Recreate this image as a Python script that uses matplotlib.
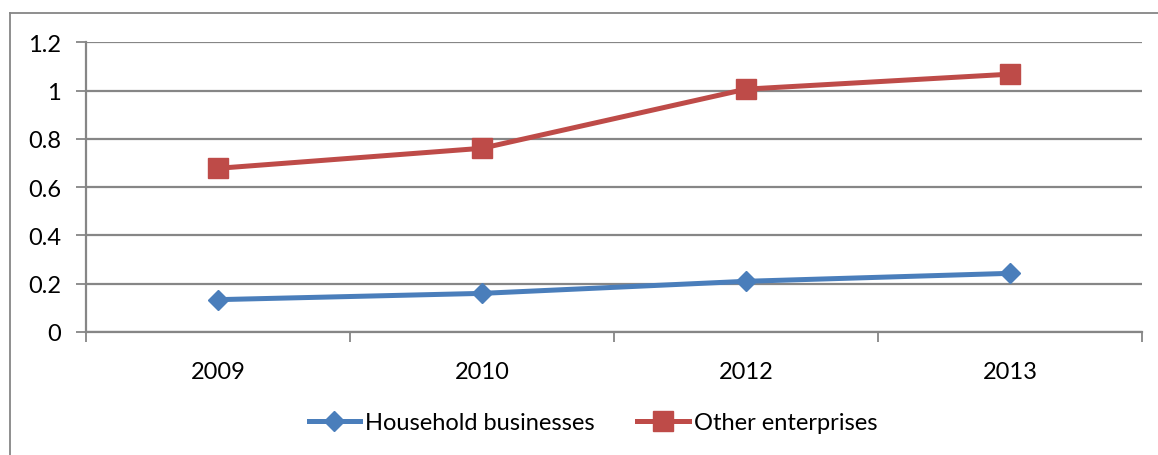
import matplotlib
matplotlib.use('Agg')
import matplotlib.pyplot as plt
from matplotlib.lines import Line2D

years = ['2009', '2010', '2012', '2013']
household = [0.134, 0.160, 0.210, 0.243]
other = [0.678, 0.761, 1.006, 1.068]
y_ticks = [0, 0.2, 0.4, 0.6, 0.8, 1, 1.2]
y_labels = ['0', '0.2', '0.4', '0.6', '0.8', '1', '1.2']

plt.rcParams['font.family'] = ['Lato', 'DejaVu Sans']
fs = 17
grey = '#868686'

W, H = 1158, 456
fig = plt.figure(figsize=(W / 100, H / 100), dpi=100)
ax = fig.add_axes([86 / W, (H - 333) / H, 1056 / W, 289.7 / H])

x = list(range(len(years)))
ax.plot(x, household, color='#4A7EBB', linewidth=3.6, marker='D', markersize=10.5,
        label='Household businesses')
ax.plot(x, other, color='#BE4B48', linewidth=3.6, marker='s', markersize=14.5,
        label='Other enterprises')

ax.set_xlim(-0.5, len(years) - 0.5)
ax.set_ylim(0, 1.2)
ax.set_yticks(y_ticks)
ax.set_yticklabels(y_labels, fontsize=fs)
ax.set_xticks(x)
ax.set_xticklabels(years, fontsize=fs)
ax.set_xticks([i - 0.5 for i in range(len(years) + 1)], minor=True)
ax.tick_params(axis='x', which='major', length=0, pad=21)
ax.tick_params(axis='x', which='minor', length=7, width=1.3, color=grey, direction='out')
ax.tick_params(axis='y', length=7, width=1.3, color=grey, pad=11)

ax.grid(axis='y', color=grey, linewidth=1.6)
ax.set_axisbelow(True)
for s in ['top', 'right']:
    ax.spines[s].set_visible(False)
for s in ['left', 'bottom']:
    ax.spines[s].set_color(grey)
    ax.spines[s].set_linewidth(1.6)

fig.legend(loc='center', bbox_to_anchor=(593 / W, 1 - 424 / H), ncol=2, frameon=False,
           fontsize=fs, handlelength=2.2, handletextpad=0.2, columnspacing=1.8)

# chart area border (only top and left edges fall inside the picture)
fig.add_artist(Line2D([10 / W, 10 / W], [0, 1 - 14 / H], color=grey, linewidth=1.3,
                      transform=fig.transFigure))
fig.add_artist(Line2D([10 / W, 1], [1 - 14 / H, 1 - 14 / H], color=grey, linewidth=1.3,
                      transform=fig.transFigure))

fig.savefig('out.png', dpi=100)
